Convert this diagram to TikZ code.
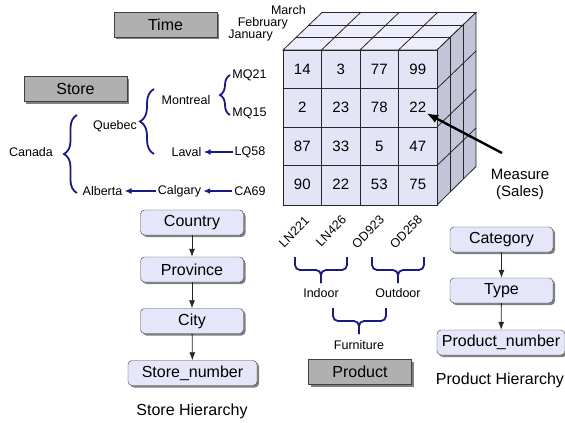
\documentclass[tikz,border=0pt]{standalone}
\usepackage{fontspec}
\setmainfont{Liberation Sans}
\usepackage{tikz}
\usetikzlibrary{arrows.meta, positioning, shadows, decorations.pathreplacing}
\definecolor{cubefront}{HTML}{E4E4F7}
\definecolor{cubetop}{HTML}{EDEDFB}
\definecolor{cubeside}{HTML}{C4C4D8}
\definecolor{boxfill}{HTML}{E6E6FA}
\definecolor{dimgray}{HTML}{B0B0B0}
\definecolor{treeblue}{HTML}{1A1A80}
\newcommand{\hdrfont}{\fontsize{16}{19}\selectfont}
\newcommand{\lblfont}{\fontsize{12.5}{15}\selectfont}
\newcommand{\numfont}{\fontsize{15}{17}\selectfont}

\begin{document}
\begin{tikzpicture}[x=1pt, y=-1pt,
  dimbox/.style={draw=black!75, fill=dimgray, minimum width=103pt, minimum height=25pt, font=\hdrfont,
    drop shadow={shadow xshift=2pt, shadow yshift=-2pt, fill=black!50, opacity=1}},
  levelbox/.style={draw=black!75, fill=boxfill, rounded corners=4pt, minimum width=103pt, minimum height=25pt,
    inner xsep=4pt, font=\hdrfont, drop shadow={shadow xshift=2pt, shadow yshift=-2pt, fill=black!50, opacity=1}},
  lbl/.style={font=\lblfont, inner sep=2pt},
  skewlbl/.style={font=\lblfont, inner sep=0pt, rotate=45},
  levelarrow/.style={-{Latex[length=8pt,width=6pt]}, black!85, line width=0.8pt},
  treearrow/.style={-{Latex[length=7pt,width=6pt]}, treeblue, line width=1.4pt},
  treebrace/.style={treeblue, line width=1.8pt, decorate, decoration={brace, amplitude=#1}},
  bracket/.style={treeblue, line width=1.8pt, rounded corners=5pt},
  cubeline/.style={draw=black!85, line width=0.8pt}]
  \useasboundingbox (0,0) rectangle (565,423);

  % dimension boxes
  \node[dimbox] (time) at (165.5,24.5) {Time};
  \node[dimbox] (store) at (75.5,89) {Store};
  \node[dimbox] (product) at (360,372) {Product};

  % the cube
  \filldraw[cubeline, fill=cubetop] (283,50) -- (437,50) -- (476,12.5) -- (322,12.5) -- cycle;
  \foreach \i in {1,2,3} \draw[cubeline] ({283+38.5*\i},50) -- ++(39,-37.5);
  \foreach \j in {1,2} \draw[cubeline] ({283+13*\j},{50-12.5*\j}) -- ++(154,0);
  \filldraw[cubeline, fill=cubeside] (437,50) -- (476,12.5) -- (476,166.5) -- (437,205) -- cycle;
  \foreach \j in {1,2} \draw[cubeline] ({437+13*\j},{50-12.5*\j}) -- ++(0,154);
  \foreach \i in {1,2,3} \draw[cubeline] (437,{50+38.5*\i}) -- ++(39,-37.5);
  \filldraw[cubeline, fill=cubefront] (283,50) rectangle (437,205);
  \foreach \i in {1,2,3} {
    \draw[cubeline] ({283+38.5*\i},50) -- ++(0,155);
    \draw[cubeline] (283,{50+38.5*\i}) -- ++(154,0);
  }
  \foreach \rowvals [count=\row] in {{14,3,77,99},{2,23,78,22},{87,33,5,47},{90,22,53,75}}
    \foreach \v [count=\col] in \rowvals
      \node[font=\numfont, inner sep=0pt] (cell-\row-\col) at ({283+38.5*(\col-0.5)},{50+38.5*(\row-0.5)}) {\v};

  % months
  \node[lbl, anchor=east] (jan) at (275,35) {January};
  \node[lbl, anchor=east] (feb) at (290,23) {February};
  \node[lbl, anchor=east] (mar) at (308,10) {March};

  % measure
  \node[font=\numfont, align=center] (measure) at (520,184) {Measure\\(Sales)};
  \coordinate (measure-tail) at (502,153);
  \draw[-{Latex[length=12pt,width=9pt]}, line width=2.4pt] (measure-tail) -- (cell-2-4.south east);

  % store members
  \node[lbl] (mq21) at (249.5,75) {MQ21};
  \node[lbl] (mq15) at (249.5,113) {MQ15};
  \node[lbl] (lq58) at (250,152) {LQ58};
  \node[lbl] (ca69) at (250,191) {CA69};
  \node[lbl] (montreal) at (186,100) {Montreal};
  \node[lbl] (laval) at (186.5,152) {Laval};
  \node[lbl] (calgary) at (179.5,191) {Calgary};
  \node[lbl] (quebec) at (115,126) {Quebec};
  \node[lbl] (alberta) at (102.5,191) {Alberta};
  \node[lbl] (canada) at (31,152) {Canada};
  \draw[treebrace=10pt] (230,115) -- (230,75);
  \draw[treebrace=14pt] (154,154) -- (154,89);
  \draw[treebrace=13pt] (77,193) -- (77,115);
  \draw[treearrow] (lq58) -- (laval);
  \draw[treearrow] (ca69) -- (calgary);
  \draw[treearrow] (calgary) -- (alberta);

  % product members
  \node[skewlbl] (ln221) at (294,232) {LN221};
  \node[skewlbl] (ln426) at (331,231) {LN426};
  \node[skewlbl] (od923) at (368,232) {OD923};
  \node[skewlbl] (od258) at (406,232) {OD258};
  \foreach \xa/\xm/\xb/\ytop/\ybar/\ytip in {295/321/347/257/270/283, 372/398/424/257/270/283, 333/359/386/308/321/334} {
    \draw[bracket] (\xa,\ytop) -- (\xa,\ybar) -- (\xm,\ybar) -- (\xm,\ytip);
    \draw[bracket] (\xb,\ytop) -- (\xb,\ybar) -- (\xm,\ybar) -- (\xm,\ytip);
  }
  \node[lbl] (indoor) at (321,293) {Indoor};
  \node[lbl] (outdoor) at (398,293) {Outdoor};
  \node[lbl] (furniture) at (359,345) {Furniture};

  % store hierarchy
  \node[levelbox] (country) at (192,222.5) {Country};
  \node[levelbox] (province) at (192,269.5) {Province};
  \node[levelbox] (city) at (192,321) {City};
  \node[levelbox, minimum width=129pt] (storenum) at (192.5,373) {Store\_number};
  \node[font=\hdrfont] (storehier) at (192,411) {Store Hierarchy};
  \draw[levelarrow] (country) -- (province);
  \draw[levelarrow] (province) -- (city);
  \draw[levelarrow] (city) -- (storenum);

  % product hierarchy
  \node[levelbox] (category) at (501.5,239.5) {Category};
  \node[levelbox] (type) at (501.5,290.5) {Type};
  \node[levelbox, minimum width=128pt] (prodnum) at (501,342.5) {Product\_number};
  \node[font=\hdrfont] (prodhier) at (500,380) {Product Hierarchy};
  \draw[levelarrow] (category) -- (type);
  \draw[levelarrow] (type) -- (prodnum);
\end{tikzpicture}
\end{document}
